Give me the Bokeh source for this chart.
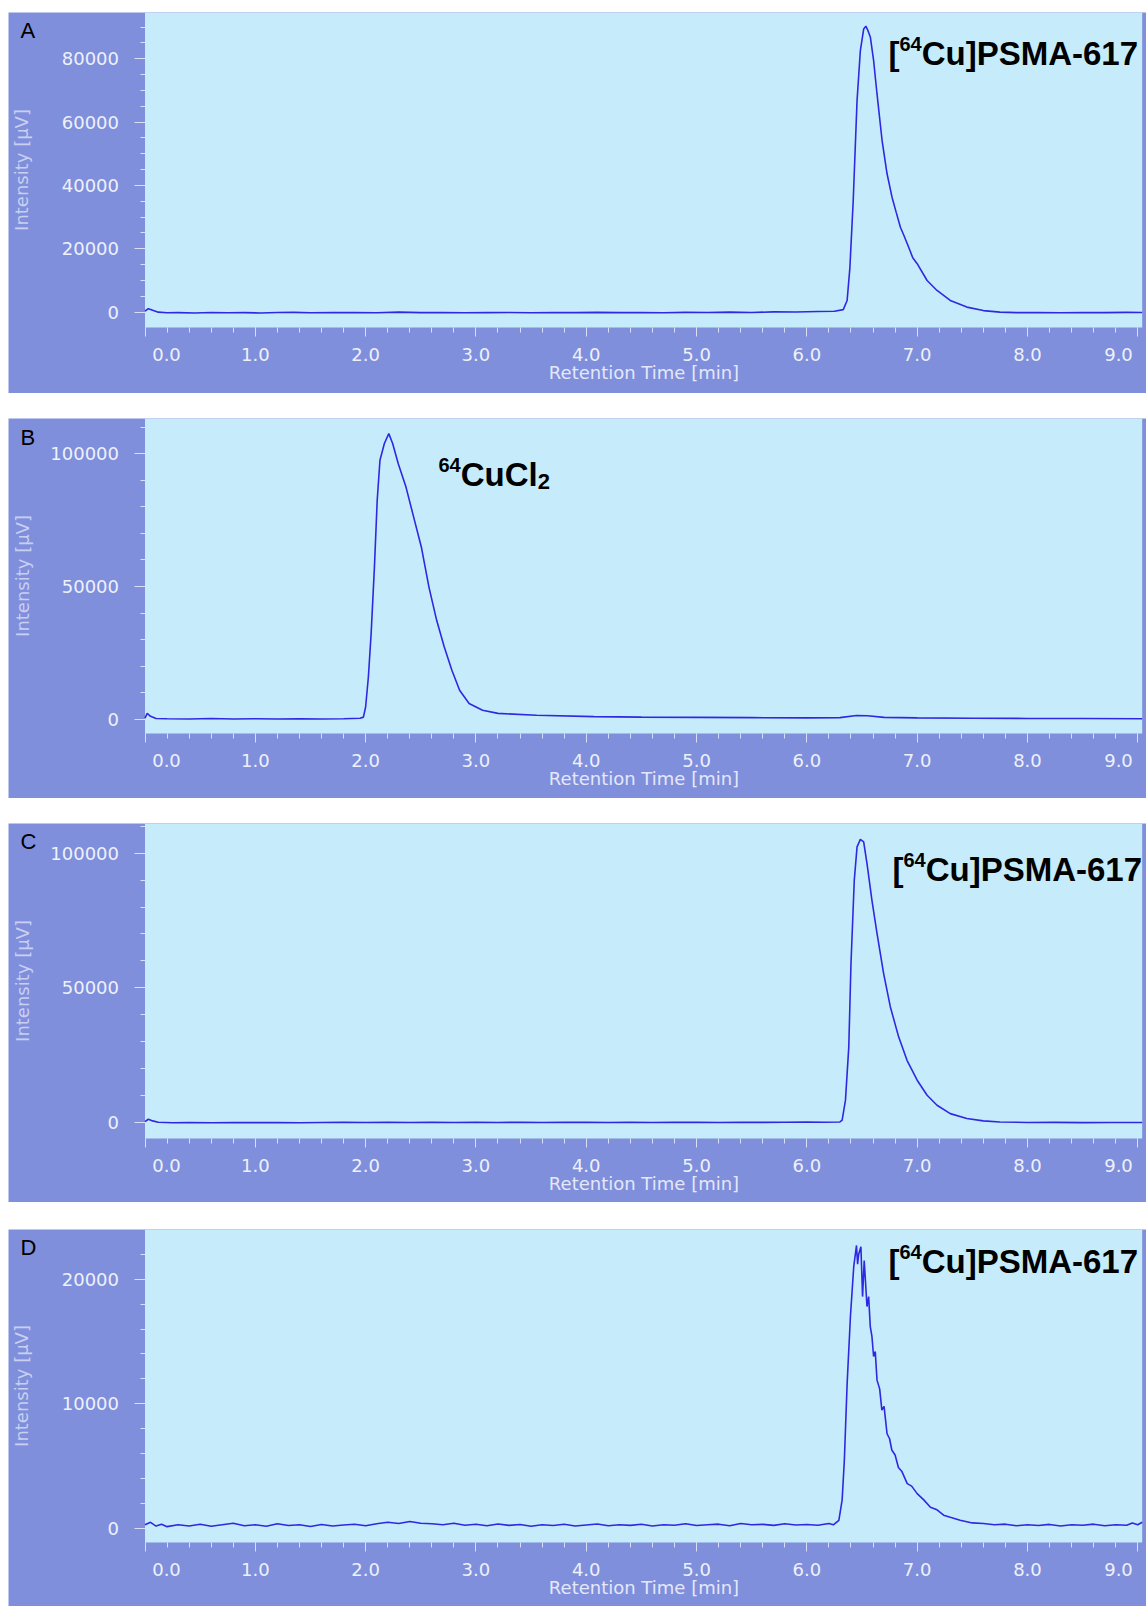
from bokeh.plotting import figure
from bokeh.models import (FixedTicker, Label, Range1d, Spacer, PrintfTickFormatter,
                          BoxAnnotation)
from bokeh.layouts import column, row
from bokeh.embed import file_html
from bokeh.resources import INLINE

# ---------------- data ----------------
X_TICKS = [0.0, 1.0, 2.0, 3.0, 4.0, 5.0, 6.0, 7.0, 8.0, 9.0]
X_MINOR = [round(i * 0.2, 1) for i in range(0, 46)]
X_LABEL = "Retention Time [min]"
Y_LABEL = "Intensity [μV]"

a_time = [0.00, 0.03, 0.07, 0.12, 0.20, 0.30, 0.45, 0.60, 0.75, 0.90, 1.05, 1.20, 1.35, 1.50, 1.70,
          1.90, 2.10, 2.30, 2.50, 2.70, 2.90, 3.10, 3.30, 3.50, 3.70, 3.90, 4.10, 4.30, 4.50, 4.70,
          4.90, 5.10, 5.30, 5.50, 5.70, 5.90, 6.10, 6.25, 6.33, 6.365, 6.39, 6.42, 6.455, 6.485,
          6.515, 6.535, 6.555, 6.576, 6.605, 6.636, 6.682, 6.727, 6.772, 6.81, 6.848, 6.88, 6.923,
          6.96, 7.00, 7.09, 7.18, 7.30, 7.45, 7.60, 7.75, 7.90, 8.10, 8.30, 8.50, 8.70, 8.90, 9.04]
a_int = [300, 1100, 600, 0, -200, -150, -250, -100, -200, -150, -250, -100, -50, -200, -150,
         -100, -200, 0, -150, -100, -200, -150, -100, -200, -100, -150, -50, -150, -100, -200,
         -50, -100, 0, -100, 100, 50, 200, 300, 800, 3700, 14000, 35000, 66800, 82600,
         89400, 90300, 88800, 86800, 79500, 68900, 54200, 43700, 36300, 31500, 26800, 24200, 20500,
         17200, 15300, 10000, 6850, 3700, 1600, 500, 0, -150, -100, -200, -100, -150, -50, -100]

b_time = [0.00, 0.02, 0.05, 0.10, 0.20, 0.40, 0.60, 0.80, 1.00, 1.20, 1.40, 1.60, 1.80, 1.95,
          1.98, 2.00, 2.025, 2.05, 2.08, 2.105, 2.13, 2.17, 2.21, 2.245, 2.296, 2.366, 2.435,
          2.505, 2.574, 2.644, 2.713, 2.782, 2.852, 2.938, 3.06, 3.20, 3.55, 4.07, 4.50, 5.00,
          5.50, 6.00, 6.30, 6.45, 6.55, 6.70, 7.00, 7.50, 8.00, 8.50, 9.04]
b_int = [500, 2300, 1200, 400, 300, 200, 400, 200, 300, 200, 300, 200, 300, 500,
         900, 4700, 16000, 32300, 57400, 82400, 97500, 103800, 107500, 103800, 96200, 87400, 76200,
         64900, 49800, 37300, 27300, 18500, 11000, 6000, 3500, 2300, 1600, 1100, 900, 800,
         700, 600, 700, 1500, 1400, 800, 600, 500, 400, 400, 300]

c_time = [0.00, 0.03, 0.07, 0.12, 0.25, 0.40, 0.60, 0.80, 1.00, 1.20, 1.40, 1.60, 1.80, 2.00,
          2.20, 2.40, 2.60, 2.80, 3.00, 3.20, 3.40, 3.60, 3.80, 4.00, 4.20, 4.40, 4.60, 4.80,
          5.00, 5.20, 5.40, 5.60, 5.80, 6.00, 6.15, 6.30, 6.32, 6.35, 6.38, 6.40, 6.43, 6.455,
          6.485, 6.515, 6.545, 6.59, 6.636, 6.696, 6.757, 6.832, 6.908, 7.00, 7.09, 7.18, 7.30,
          7.45, 7.60, 7.75, 8.00, 8.25, 8.50, 8.75, 9.04]
c_int = [300, 1200, 600, 100, -100, 0, -100, 0, -50, 0, -100, 0, 100, 0,
         50, 0, 100, 0, 50, 0, 100, 0, 50, 100, 0, 50, 0, 100,
         50, 0, 100, 50, 100, 150, 100, 200, 850, 8300, 28000, 59000, 90000, 102300,
         105100, 104200, 96200, 82500, 70200, 55300, 42900, 31800, 23100, 15700, 10100, 6400, 3300,
         1500, 600, 200, 0, 50, -50, 0, 0]

d_time = [0.00, 0.05, 0.10, 0.15, 0.20, 0.30, 0.40, 0.50, 0.60, 0.70, 0.80, 0.90, 1.00, 1.10,
          1.20, 1.30, 1.40, 1.50, 1.60, 1.70, 1.80, 1.90, 2.00, 2.10, 2.20, 2.30, 2.40, 2.50,
          2.60, 2.70, 2.80, 2.90, 3.00, 3.10, 3.20, 3.30, 3.40, 3.50, 3.60, 3.70, 3.80, 3.90,
          4.00, 4.10, 4.20, 4.30, 4.40, 4.50, 4.60, 4.70, 4.80, 4.90, 5.00, 5.10, 5.20, 5.30,
          5.40, 5.50, 5.60, 5.70, 5.80, 5.90, 6.00, 6.10, 6.20, 6.24, 6.29, 6.32, 6.34, 6.365,
          6.395, 6.425, 6.45, 6.46, 6.47, 6.49, 6.505, 6.52, 6.545, 6.56, 6.575, 6.59, 6.605,
          6.62, 6.636, 6.66, 6.68, 6.70, 6.727, 6.75, 6.77, 6.80, 6.83, 6.86, 6.91, 6.95, 7.00,
          7.06, 7.12, 7.18, 7.24, 7.30, 7.39, 7.50, 7.60, 7.70, 7.80, 7.90, 8.00, 8.10, 8.20,
          8.30, 8.40, 8.50, 8.60, 8.70, 8.80, 8.90, 8.95, 9.00, 9.04]
d_int = [300, 500, 200, 350, 150, 300, 200, 350, 180, 300, 420, 220, 300, 180,
         380, 240, 300, 160, 320, 200, 280, 340, 220, 380, 500, 400, 560, 420,
         380, 300, 420, 260, 340, 220, 360, 250, 320, 180, 300, 240, 350, 200,
         280, 360, 220, 300, 250, 340, 200, 300, 260, 380, 240, 300, 350, 220,
         400, 300, 330, 250, 380, 280, 320, 260, 400, 300, 660, 2300, 5500, 11600,
         17000, 21000, 22700, 21200, 22000, 22600, 18600, 21500, 17800, 18600, 16200, 15400, 13800,
         14200, 11900, 11200, 9500, 9800, 7600, 7200, 6300, 5900, 4900, 4600, 3600, 3400, 2800,
         2300, 1700, 1500, 1070, 900, 670, 450, 400, 300, 350, 220, 300, 240, 330,
         200, 300, 260, 350, 220, 300, 260, 450, 300, 500]

A_YTICKS = [0, 20000, 40000, 60000, 80000]
A_YMINOR = list(range(0, 90001, 5000))
BC_YTICKS = [0, 50000, 100000]
BC_YMINOR = list(range(0, 110001, 10000))
D_YTICKS = [0, 10000, 20000]
D_YMINOR = list(range(0, 22001, 2000))

# ---------------- style ----------------
OUTER = "#7f8fdb"
PLOT_BG = "#c6ecfb"
LINE = "#2f28e2"
TICK_TXT = "#eef1fb"
YLAB_C = "#c8cff3"
XLAB_C = "#e4e8f9"
TICKLINE = "#d8def6"
FONT = "DejaVu Sans"
ANN_FONT = "Liberation Sans"

W = 1138            # figure width (page x 8 .. 1146)
PAGE_X0 = 8
L_PX, R_PX = 136.5, 4.3   # plot-area insets inside the figure
XR0, XR1 = 0.0, 9.04
LABEL_DY = -10      # correction for label baseline placement
MID_DY = -2


def make_panel(t, v, yr, yticks, yminor, letter, h, plot_h, ylab_standoff, parts, letter_base):
    pw = W - L_PX - R_PX
    ux = (XR1 - XR0) / pw
    y0, y1 = yr
    uy = (y1 - y0) / plot_h
    xs, xe = XR0 - L_PX * ux, XR1 + R_PX * ux
    ys, ye = y0 - (h - plot_h) * uy, y1

    def fx(page_x):
        return xs + (page_x - PAGE_X0) * ux

    def fy(py):
        return ye - py * uy

    p = figure(width=W, height=h, output_backend="svg", toolbar_location=None,
               x_range=Range1d(xs, xe), y_range=Range1d(ys, ye), min_border=0,
               background_fill_color=OUTER, border_fill_color=OUTER)
    p.outline_line_color = None
    p.grid.visible = False

    p.add_layout(BoxAnnotation(left=XR0, right=XR1, bottom=y0, top=y1,
                               fill_color=PLOT_BG, fill_alpha=1.0, line_color=None,
                               level="underlay"))

    p.line(t, v, color=LINE, line_width=1.6)

    xa = p.xaxis[0]
    xa.fixed_location = y0
    xa.bounds = (XR0, XR1)
    xa.ticker = FixedTicker(ticks=X_TICKS, minor_ticks=X_MINOR)
    xa.formatter = PrintfTickFormatter(format="%.1f")
    xa.major_label_overrides = {0: "", 9: ""}
    xa.axis_label = X_LABEL
    xa.axis_label_text_color = XLAB_C
    xa.axis_label_text_font_size = "18px"
    xa.axis_label_standoff = -2
    xa.major_label_standoff = 11
    xa.major_tick_out = 9
    xa.minor_tick_out = 5

    ya = p.yaxis[0]
    ya.fixed_location = XR0
    ya.bounds = (y0, y1)
    ya.ticker = FixedTicker(ticks=yticks, minor_ticks=yminor)
    ya.formatter = PrintfTickFormatter(format="%d")
    ya.axis_label = Y_LABEL
    ya.axis_label_text_color = YLAB_C
    ya.axis_label_text_font_size = "18px"
    ya.axis_label_standoff = ylab_standoff
    ya.major_label_standoff = 15
    ya.major_tick_out = 11
    ya.minor_tick_out = 5

    for ax in (xa, ya):
        ax.axis_line_color = None
        ax.major_tick_in = 0
        ax.minor_tick_in = 0
        ax.major_tick_line_color = TICKLINE
        ax.minor_tick_line_color = TICKLINE
        ax.major_label_text_color = TICK_TXT
        ax.major_label_text_font = FONT
        ax.major_label_text_font_size = "18px"
        ax.axis_label_text_font = FONT
        ax.axis_label_text_font_style = "normal"

    # first / last tick labels are drawn pushed inwards, as in the original software
    ylab = fy(plot_h + 29 + MID_DY)
    for txt, px in (("0.0", 166), ("9.0", 1118)):
        p.add_layout(Label(x=fx(px), y=ylab, text=txt, text_align="center",
                           text_baseline="middle", text_color=TICK_TXT, text_font=FONT,
                           text_font_size="18px"))

    # panel letter
    p.add_layout(Label(x=fx(20), y=fy(letter_base + LABEL_DY), text=letter,
                       text_align="left", text_baseline="alphabetic", text_color="black",
                       text_font=ANN_FONT, text_font_size="22px"))

    # compound annotation built from pieces (superscript / subscript)
    for txt, size, px, py in parts:
        p.add_layout(Label(x=fx(px), y=fy(py + LABEL_DY), text=txt, text_align="left",
                           text_baseline="alphabetic", text_color="black",
                           text_font=ANN_FONT, text_font_size=f"{size}px",
                           text_font_style="bold"))
    return p


def psma_parts(start_x, base):
    return [("[", 33, start_x, base),
            ("64", 20, start_x + 11.0, base - 9.5),
            ("Cu]PSMA-617", 33, start_x + 11.0 + 22.2, base)]


cucl_x = 438
cucl_base = 66
cucl_parts = [("64", 20, cucl_x, cucl_base - 9.5),
              ("CuCl", 33, cucl_x + 22.2, cucl_base),
              ("2", 22, cucl_x + 22.2 + 77.0, cucl_base + 7)]

pA = make_panel(a_time, a_int, (-4840, 94620), A_YTICKS, A_YMINOR, "A", 381, 315, 27,
                psma_parts(888, 51.3), 27.5)
pB = make_panel(b_time, b_int, (-5260, 113200), BC_YTICKS, BC_YMINOR, "B", 380, 315, 15,
                cucl_parts, 28.5)
pC = make_panel(c_time, c_int, (-5940, 111000), BC_YTICKS, BC_YMINOR, "C", 379, 315, 15,
                psma_parts(892, 56.0), 27.5)
pD = make_panel(d_time, d_int, (-1120, 23980), D_YTICKS, D_YMINOR, "D", 377, 313, 27,
                psma_parts(888, 41.5), 28)

stack = column(Spacer(width=W, height=12), pA, Spacer(width=W, height=25), pB,
               Spacer(width=W, height=25), pC, Spacer(width=W, height=27), pD, spacing=0)
layout = row(Spacer(width=PAGE_X0, height=10), stack, spacing=0)

open("out.html", "w").write(file_html(layout, INLINE))
